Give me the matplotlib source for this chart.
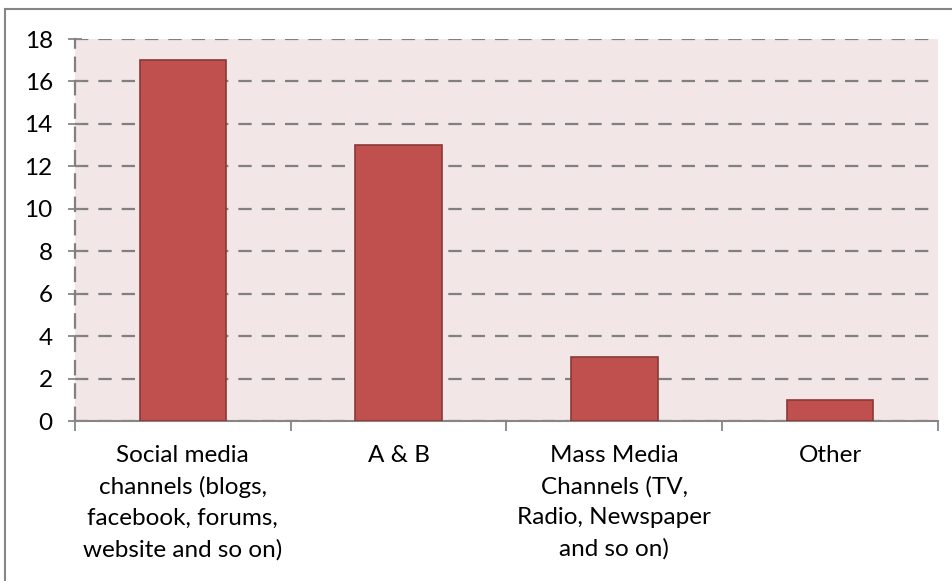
import numpy as np
import matplotlib.pyplot as plt
from matplotlib.lines import Line2D

# data
categories = ["Social media\nchannels (blogs,\nfacebook, forums,\nwebsite and so on)",
              "A & B",
              "Mass Media\nChannels (TV,\nRadio, Newspaper\nand so on)",
              "Other"]
counts = [17, 13, 3, 1]
y_ticks = [0, 2, 4, 6, 8, 10, 12, 14, 16, 18]

plt.rcParams['font.family'] = ['Lato', 'DejaVu Sans']

fig = plt.figure(figsize=(9.53, 5.81), dpi=100)
ax = fig.add_axes([75 / 953, 1 - 421 / 581, 863 / 953, 382 / 581])
ax.set_facecolor('#F2E6E6')

x = np.arange(len(counts))
ax.bar(x, counts, width=0.4, color='#C0504D', edgecolor='#8C3836', linewidth=1.2, zorder=3)

dash = (0, (6, 4.5))
ax.set_xlim(-0.5, len(counts) - 0.5)
ax.set_ylim(0, 18)
ax.set_yticks(y_ticks)
ax.tick_params(axis='y', direction='inout', length=10, width=1.3, color='#868686',
               labelsize=17.5, pad=11)
ax.yaxis.grid(True, color='#808080', linestyle=dash, linewidth=1.6, zorder=1)

# category boundary ticks + labels at centres
ax.set_xticks(np.arange(-0.5, len(counts)), minor=False)
ax.set_xticklabels([])
ax.tick_params(axis='x', which='major', direction='out', length=7, width=1.3, color='#868686')
ax.set_xticks(x, minor=True)
ax.set_xticklabels(categories, minor=True, fontsize=17.5, linespacing=1.57, va='top')
ax.tick_params(axis='x', which='minor', length=0, pad=17)

for s in ['top', 'right']:
    ax.spines[s].set_visible(False)
ax.spines['bottom'].set_color('#868686')
ax.spines['bottom'].set_linewidth(1.5)
ax.spines['left'].set_color('#808080')
ax.spines['left'].set_linewidth(1.6)
ax.spines['left'].set_linestyle(dash)
ax.set_axisbelow(True)

# outer chart border (left and top visible)
fig.add_artist(Line2D([5 / 953, 5 / 953], [0, 1 - 9 / 581], color='#868686', lw=1.5))
fig.add_artist(Line2D([5 / 953, 1], [1 - 9 / 581, 1 - 9 / 581], color='#868686', lw=1.5))

fig.savefig('out.png', dpi=100)
